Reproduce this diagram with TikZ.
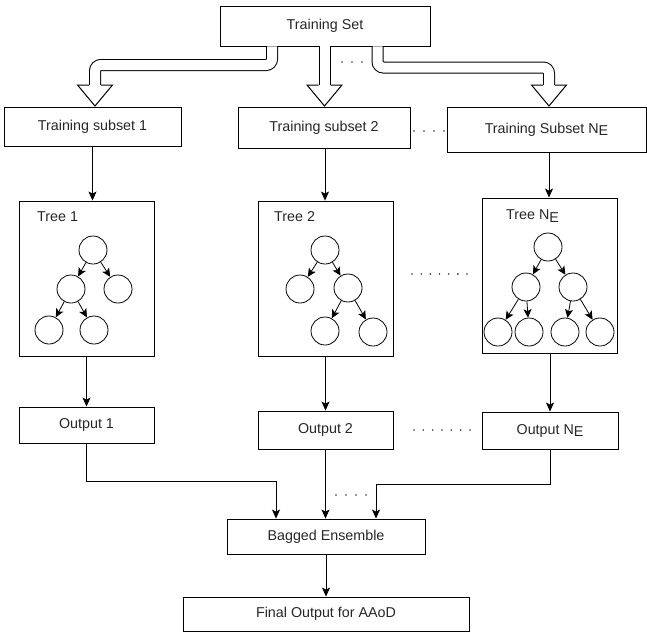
\documentclass[tikz,border=0pt]{standalone}
\usepackage{fontspec}
\setmainfont{Liberation Sans}
\usetikzlibrary{arrows.meta}
\newcommand\NsubE{N\raisebox{-0.35ex}{E}}
\begin{document}
\begin{tikzpicture}[x=1pt,y=-1pt,
  font=\fontsize{14.3}{16}\selectfont,
  box/.style={draw, line width=0.9pt, rectangle, inner sep=0pt, text=black!85},
  circ/.style={draw, circle, line width=0.8pt, minimum size=28pt, inner sep=0pt},
  arr/.style={-{Stealth[length=9pt,width=8pt,inset=2pt]}, line width=0.8pt},
  tarr/.style={-{Stealth[length=8.5pt,width=8pt,inset=2pt]}, line width=0.8pt},
  hollow/.style={double=white, double distance=10pt, line width=1pt, rounded corners=6pt},
  headsty/.style={line width=1pt, line join=miter},
  lbl/.style={anchor=west, inner sep=0pt, text=black!85},
  dotsty/.style={black!80}
]
\useasboundingbox (0,0) rectangle (647,632);

% top boxes
\node[box, minimum width=210pt, minimum height=40pt] (ts) at (325,26) {Training Set};
\node[box, minimum width=177pt, minimum height=39pt] (sub1) at (92.5,126.5) {Training subset 1};
\node[box, minimum width=172pt, minimum height=41pt] (sub2) at (324,127.5) {Training subset 2};
\node[box, minimum width=199pt, minimum height=45pt] (subN) at (546.5,129.5) {Training Subset \NsubE};

% hollow arrows
\coordinate (h1) at (95,106);
\coordinate (h2) at (324.5,106);
\coordinate (h3) at (549,106);
\draw[hollow] ([xshift=-53]ts.south) -- (272,65) -- (95,65) -- (95,85.5);
\draw[hollow] (ts.south -| h2) -- (324.5,85.5);
\draw[hollow] ([xshift=52.5]ts.south) -- (377.5,67.5) -- (549,67.5) -- (549,85.5);
\foreach \h in {h1,h2,h3}{
  \fill[white] ([shift={(-17.5,-21)}]\h) -- (\h) -- ([shift={(17.5,-21)}]\h) -- cycle;
  \draw[headsty] ([shift={(-6,-21)}]\h) -- ([shift={(-17.5,-21)}]\h) -- (\h) -- ([shift={(17.5,-21)}]\h) -- ([shift={(6,-21)}]\h);
}

% trees boxes
\node[box, minimum width=135pt, minimum height=155pt] (t1) at (86.5,278.5) {};
\node[box, minimum width=135pt, minimum height=155pt] (t2) at (325.5,278.5) {};
\node[box, minimum width=135pt, minimum height=155pt] (tN) at (549.5,275.5) {};
\node[lbl] (t1l) at (37,217) {Tree 1};
\node[lbl] (t2l) at (274,217) {Tree 2};
\node[lbl] (tNl) at (506,216) {Tree \NsubE};

% tree 1
\node[circ] (a0) at (93,250) {};
\node[circ] (a1) at (71,289) {};
\node[circ] (a2) at (118,289) {};
\node[circ] (a3) at (49,330) {};
\node[circ] (a4) at (94,330) {};
\draw[tarr] (a0) -- (a1);
\draw[tarr] (a0) -- (a2);
\draw[tarr] (a1) -- (a3);
\draw[tarr] (a1) -- (a4);

% tree 2
\node[circ] (b0) at (325,250) {};
\node[circ] (b1) at (300,289) {};
\node[circ] (b2) at (348,288) {};
\node[circ] (b3) at (325,331) {};
\node[circ] (b4) at (373,332) {};
\draw[tarr] (b0) -- (b1);
\draw[tarr] (b0) -- (b2);
\draw[tarr] (b2) -- (b3);
\draw[tarr] (b2) -- (b4);

% tree N
\node[circ] (c0) at (548,247) {};
\node[circ] (c1) at (526,287) {};
\node[circ] (c2) at (573,287) {};
\node[circ] (c3) at (498,332) {};
\node[circ] (c4) at (529,332) {};
\node[circ] (c5) at (565,332) {};
\node[circ] (c6) at (600,332) {};
\draw[tarr] (c0) -- (c1);
\draw[tarr] (c0) -- (c2);
\draw[tarr] (c1) -- (c3);
\draw[tarr] (c1) -- (c4);
\draw[tarr] (c2) -- (c5);
\draw[tarr] (c2) -- (c6);

% subset -> tree
\draw[arr] (sub1.south) -- (sub1.south |- t1.north);
\draw[arr] ([xshift=1]sub2.south) -- ([xshift=1]sub2.south |- t2.north);
\draw[arr] ([xshift=2.5]subN.south) -- ([xshift=2.5]subN.south |- tN.north);

% outputs
\node[box, minimum width=135pt, minimum height=36pt] (o1) at (86.5,425) {Output 1};
\node[box, minimum width=135pt, minimum height=38pt] (o2) at (325.5,430) {Output 2};
\node[box, minimum width=136pt, minimum height=37pt] (oN) at (550,430.5) {Output \NsubE};

\draw[arr] (o1.north |- t1.south) -- (o1.north);
\draw[arr] (o2.north |- t2.south) -- (o2.north);
\draw[arr] (oN.north |- tN.south) -- (oN.north);

% bagged & final
\node[box, minimum width=198pt, minimum height=35pt] (bag) at (326,536.5) {Bagged Ensemble};
\node[box, minimum width=286pt, minimum height=34pt] (fin) at (326,614) {Final Output for AAoD};

\draw[arr] (o1.south) -- ++(0,38) -| ([xshift=-50]bag.north);
\draw[arr] (o2.south) -- (o2.south |- bag.north);
\draw[arr] (oN.south) -- ++(0,35) -| ([xshift=50]bag.north);
\draw[arr] (bag.south) -- (fin.north);

% dots
\foreach \x in {342,352,362} \fill[dotsty] (\x,62) circle (0.9);
\foreach \x in {414,424,434,444} \fill[dotsty] (\x,131) circle (0.9);
\foreach \i in {0,...,6} \fill[dotsty] (412+9.17*\i,274) circle (0.9);
\foreach \i in {0,...,6} \fill[dotsty] (414+9.33*\i,430) circle (0.9);
\foreach \x in {336,346,356,366} \fill[dotsty] (\x,495) circle (0.9);
\end{tikzpicture}
\end{document}
